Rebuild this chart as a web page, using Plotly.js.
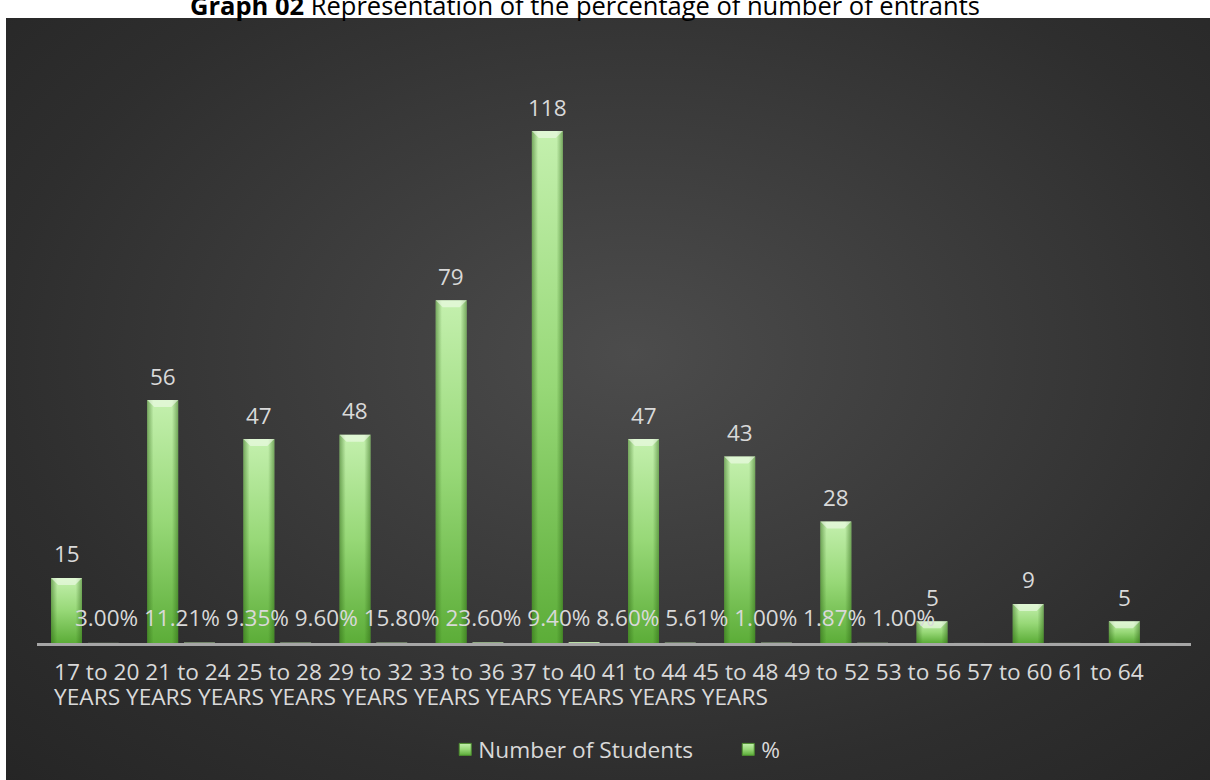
<!DOCTYPE html>
<html>
<head>
<meta charset="utf-8">
<script src="https://cdn.plot.ly/plotly-3.0.1.min.js"></script>
<style>
  html, body { margin: 0; padding: 0; background: #ffffff; width: 1210px; height: 780px; overflow: hidden; }
  #bg { position: absolute; left: 6px; top: 18px; width: 1204px; height: 762px;
        background: radial-gradient(ellipse 75% 80% at 52% 44%, #4c4c4c 0%, #3d3d3d 35%, #2e2e2e 70%, #252525 100%); }
  #chart { position: absolute; left: 0; top: 0; width: 1210px; height: 780px; }
</style>
</head>
<body>
<div id="bg"></div>
<div id="chart"></div>
<script>
// ---- data ----
const ageRanges = ['17 to 20', '21 to 24', '25 to 28', '29 to 32', '33 to 36', '37 to 40',
                   '41 to 44', '45 to 48', '49 to 52', '53 to 56', '57 to 60', '61 to 64'];
const unitWord = 'YEARS';
const unitWordCountShown = 10;
const numberOfStudents = [15, 56, 47, 48, 79, 118, 47, 43, 28, 5, 9, 5];
const percentValues = [0.03, 0.1121, 0.0935, 0.096, 0.158, 0.236, 0.094, 0.086, 0.0561, 0.01, 0.0187, 0.01];
const percentLabels = ['3.00%', '11.21%', '9.35%', '9.60%', '15.80%', '23.60%', '9.40%', '8.60%', '5.61%', '1.00%', '1.87%', '1.00%'];
const seriesNames = ['Number of Students', '%'];
const chartTitleBold = 'Graph 02';
const chartTitleRest = 'Representation of the percentage of number of entrants';

// ---- chart ----
const categories = ageRanges.map(r => r + ' ' + unitWord);
const labelColor = '#d9d9d9';
const font = 'Open Sans, Noto Sans, sans-serif';

const traces = [
  {
    type: 'bar', name: seriesNames[0], x: categories, y: numberOfStudents,
    width: 0.322, offset: -0.354,
    marker: { color: '#8fd26e', line: { width: 0 } },
    hoverinfo: 'skip'
  },
  {
    type: 'bar', name: seriesNames[1], x: categories, y: percentValues,
    width: 0.322, offset: 0.028,
    marker: { color: '#b9dfa6', line: { width: 0 } },
    hoverinfo: 'skip'
  }
];

const annotations = [];
categories.forEach((c, i) => {
  annotations.push({
    x: c, y: numberOfStudents[i], xref: 'x', yref: 'y',
    text: String(numberOfStudents[i]), showarrow: false,
    xshift: -18.5, yshift: 24, yanchor: 'middle', xanchor: 'center',
    font: { family: font, size: 22.5, color: labelColor }
  });
});
// percentage labels row
annotations.push({
  xref: 'paper', yref: 'paper', x: 0.0312, y: 0.0457, xanchor: 'left', yanchor: 'middle',
  text: percentLabels.join(' '), showarrow: false,
  font: { family: font, size: 22.5, color: labelColor }
});
// category label rows
annotations.push({
  xref: 'paper', yref: 'paper', x: 0.013, y: -0.0514, xanchor: 'left', yanchor: 'middle',
  text: ageRanges.join(' '), showarrow: false,
  font: { family: font, size: 22.7, color: labelColor }
});
annotations.push({
  xref: 'paper', yref: 'paper', x: 0.013, y: -0.094, xanchor: 'left', yanchor: 'middle',
  text: Array(unitWordCountShown).fill(unitWord).join(' '), showarrow: false,
  font: { family: font, size: 22.7, color: labelColor }
});
// title (cut off at the top, as in the reference)
annotations.push({
  xref: 'paper', yref: 'paper', x: 0.475, y: 1.098, xanchor: 'center', yanchor: 'bottom',
  text: '<b>' + chartTitleBold + '</b> ' + chartTitleRest, showarrow: false,
  font: { family: font, size: 25.5, color: '#000000' }
});

const layout = {
  width: 1210, height: 780,
  margin: { l: 37, r: 19, t: 79, b: 137, pad: 0, autoexpand: false },
  paper_bgcolor: 'rgba(0,0,0,0)', plot_bgcolor: 'rgba(0,0,0,0)',
  barmode: 'overlay',
  showlegend: true,
  legend: {
    orientation: 'h', x: 0.599, xanchor: 'center',
    yref: 'container', y: 0.0665, yanchor: 'top',
    font: { family: font, size: 22.7, color: labelColor }, bgcolor: 'rgba(0,0,0,0)',
    entrywidth: 238
  },
  xaxis: {
    type: 'category', range: [-0.5, 11.5], showticklabels: false, ticks: '',
    showline: true, linecolor: '#a6a6a6', linewidth: 2.5, showgrid: false, zeroline: false, fixedrange: true
  },
  yaxis: { range: [0, 130], visible: false, showgrid: false, zeroline: false, fixedrange: true },
  annotations: annotations
};

Plotly.newPlot('chart', traces, layout, { displayModeBar: false, staticPlot: true }).then(gd => {
  const NS = 'http://www.w3.org/2000/svg';
  const svg = gd.querySelector('svg.main-svg');
  let defs = svg.querySelector('defs');
  if (!defs) { defs = document.createElementNS(NS, 'defs'); svg.insertBefore(defs, svg.firstChild); }
  function grad(id, x2, y2, stops) {
    const g = document.createElementNS(NS, 'linearGradient');
    g.setAttribute('id', id);
    g.setAttribute('x1', '0'); g.setAttribute('y1', '0');
    g.setAttribute('x2', x2); g.setAttribute('y2', y2);
    stops.forEach(s => {
      const st = document.createElementNS(NS, 'stop');
      st.setAttribute('offset', s[0]); st.setAttribute('stop-color', s[1]);
      if (s[2] != null) st.setAttribute('stop-opacity', s[2]);
      g.appendChild(st);
    });
    defs.appendChild(g);
  }
  grad('barV', '0', '1', [['0', '#c4f0ae'], ['0.5', '#97d877'], ['1', '#5cad38']]);
  grad('barH', '1', '0', [['0', '#2a6212', 0.5], ['0.2', '#2a6212', 0], ['0.8', '#2a6212', 0], ['1', '#2a6212', 0.5]]);
  const barTraces = gd.querySelectorAll('.barlayer .trace');
  if (barTraces.length) {
    barTraces[0].querySelectorAll('.point path').forEach(p => {
      p.style.fill = 'url(#barV)';
      const c = p.cloneNode();
      c.style.fill = 'url(#barH)';
      c.style.stroke = 'none';
      p.parentNode.appendChild(c);
      // top bevel highlight
      const b = p.getBBox();
      if (b.height > 10) {
        const poly = document.createElementNS(NS, 'path');
        const x0 = b.x, x1 = b.x + b.width, y0 = b.y, h = 7, inset = 7;
        poly.setAttribute('d', `M${x0},${y0}H${x1}L${x1 - inset},${y0 + h}H${x0 + inset}Z`);
        poly.style.fill = '#f2fced';
        poly.style.fillOpacity = '0.6';
        p.parentNode.appendChild(poly);
      }
    });
  }
  gd.querySelectorAll('.legend .legendpoints path').forEach(p => {
    p.style.fill = 'url(#barV)';
    p.style.stroke = '#4e8f30';
    p.style.strokeWidth = '1px';
  });
  gd.querySelectorAll('.legend text.legendtext').forEach(t => {
    t.setAttribute('x', '33');
  });
});
</script>
</body>
</html>
